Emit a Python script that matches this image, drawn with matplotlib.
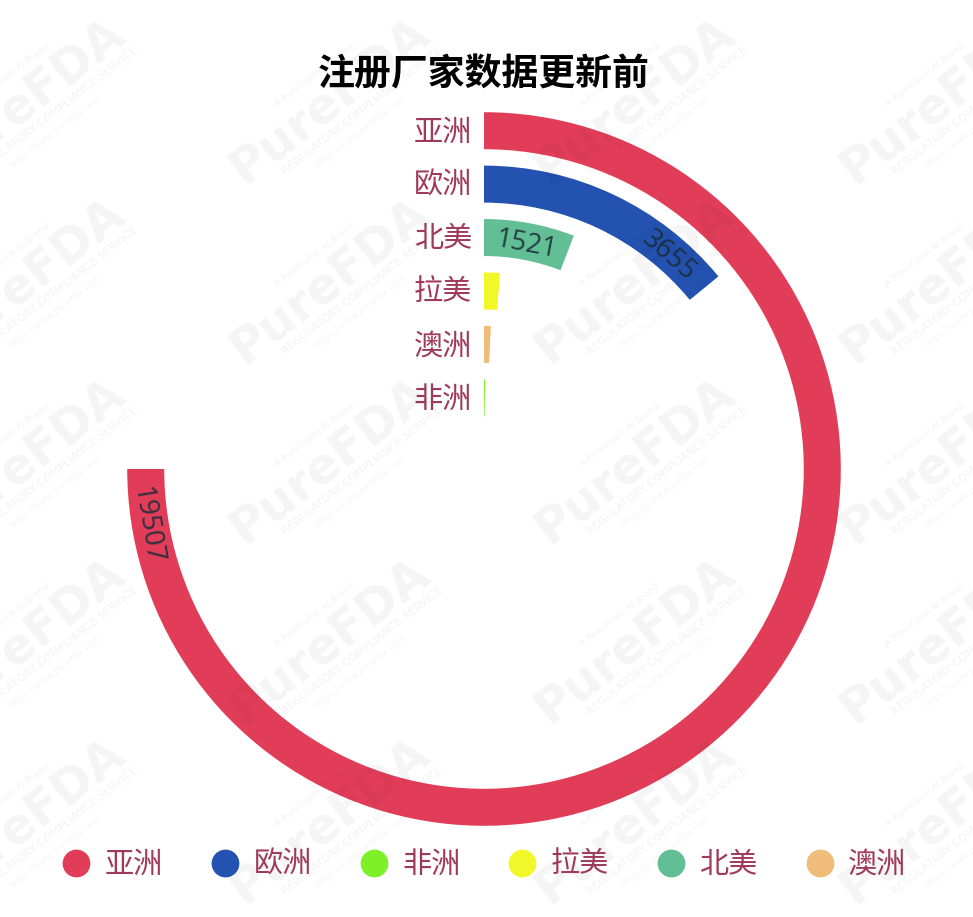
import math
import matplotlib
matplotlib.use("Agg")
import matplotlib.pyplot as plt
from matplotlib.lines import Line2D

plt.rcParams['font.family'] = ['Noto Sans CJK SC', 'DejaVu Sans']

# radial order, outermost ring first
regions = ["亚洲", "欧洲", "北美", "拉美", "澳洲", "非洲"]
counts = [19507, 3655, 1521, 340, 200, 50]
colors = ["#e23d58", "#2352b0", "#62bf95", "#f2f72a", "#efbc7a", "#7cf029"]

legend_order = ["亚洲", "欧洲", "非洲", "拉美", "北美", "澳洲"]
shown_values = {"亚洲": 19507, "欧洲": 3655, "北美": 1521}
# how far along the bar the value text sits
label_pos = {"亚洲": 0.965, "欧洲": 0.81, "北美": 0.51}

W, H = 973, 917
CX, CY = 484, 469
PITCH = 53.4
OUTER = 365.0
FULL_TURN_VALUE = max(counts) * 360 / 270
LABEL_COLOR = "#a03a5a"


def to_theta(v):
    return v / FULL_TURN_VALUE * 2 * math.pi


def watermark(fig, x, y, s, size, weight="normal", alpha=0.05):
    fig.text(x / W, 1 - y / H, s, rotation=38, ha="center", va="center", rotation_mode="anchor",
             fontsize=size, fontweight=weight, color="black", alpha=alpha,
             family="DejaVu Sans", zorder=5, clip_on=True)


fig = plt.figure(figsize=(W / 100, H / 100), dpi=100, facecolor="white")

ax = fig.add_axes([(CX - OUTER) / W, (H - CY - OUTER) / H, 2 * OUTER / W, 2 * OUTER / H],
                  projection="polar")
ax.patch.set_alpha(0)
ax.set_theta_zero_location("N")
ax.set_theta_direction(-1)

n = len(regions)
ypos = [n - 1 - i for i in range(n)]
ax.barh(ypos, [to_theta(c) for c in counts], height=0.693, left=0, color=colors, linewidth=0)
ax.set_ylim(-0.5, n - 0.5)
ax.set_rorigin(-0.5 - 44.5 / PITCH)
ax.set_thetalim(0, 2 * math.pi)
ax.axis("off")

for name, y in zip(regions, ypos):
    ax.annotate(name, xy=(0, y), xytext=(-8.6, -1.4), textcoords="offset points", ha="right",
                va="center", fontsize=21, fontweight="light", color=LABEL_COLOR,
                annotation_clip=False)

for name, y in zip(regions, ypos):
    if name not in shown_values:
        continue
    th = to_theta(shown_values[name]) * label_pos[name]
    deg = math.degrees(th)
    # flipped text on the left side, nudge stays "down" in the text's own frame
    rot, nudge = (-deg, -0.06) if deg < 180 else (180 - deg, 0.06)
    ax.text(th, y + nudge, str(shown_values[name]), rotation=rot, rotation_mode="anchor",
            ha="center", va="center", fontsize=19.5, fontweight="light", color="#1c2b3a",
            alpha=0.85, family="Noto Sans")

fig.text(484 / W, 1 - 75 / H, "注册厂家数据更新前", ha="center", va="center", fontsize=26.6,
         fontweight="bold", color="black")

color_of = dict(zip(regions, colors))
handles = [Line2D([], [], linestyle="none", marker="o", markersize=20, markeredgewidth=0,
                  color=color_of[r], label=r) for r in legend_order]
leg = fig.legend(handles=handles, loc="center", bbox_to_anchor=(484 / W, 1 - 865 / H), ncol=6,
                 frameon=False, fontsize=21, handlelength=1, handletextpad=0.48,
                 columnspacing=1.62, borderpad=0, borderaxespad=0)
for t in leg.get_texts():
    t.set_color(LABEL_COLOR)
    t.set_fontweight("light")

# watermark tiles sit over the chart, that is why they darken the red ring
for tx in [25, 330, 635, 940]:
    for ty in [100, 280, 460, 640, 820]:
        watermark(fig, tx, ty, "PureFDA", 35, "bold", alpha=0.045)
        watermark(fig, tx + 32, ty + 11, "REGULATORY COMPLIANCE SERVICE", 8, alpha=0.055)
        watermark(fig, tx + 30, ty + 31, "https://www.purefda.com", 6.5, alpha=0.045)
        watermark(fig, tx - 15, ty - 25, "A PureVision AI Brand", 6.5, alpha=0.055)

fig.savefig("out.png", dpi=100)
